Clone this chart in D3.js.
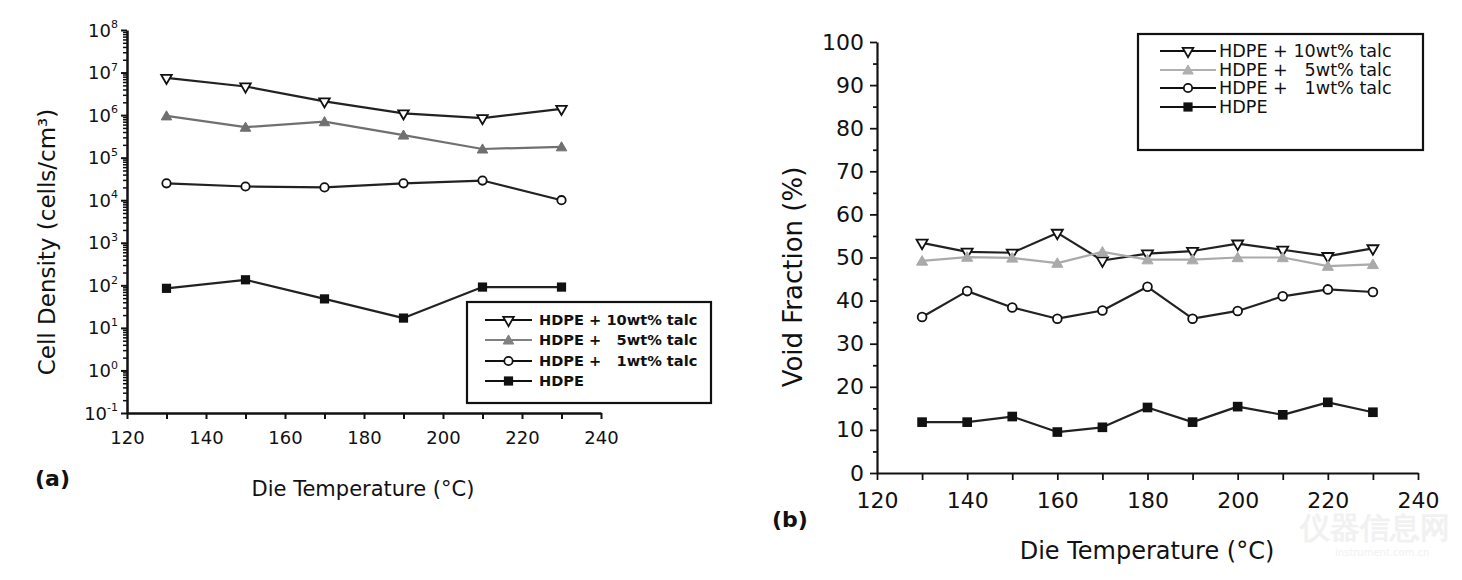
<!DOCTYPE html>
<html>
<head>
<meta charset="utf-8">
<script src="https://cdn.jsdelivr.net/npm/d3@7/dist/d3.min.js"></script>
<style>
  html, body { margin: 0; padding: 0; background: #fff; }
  svg text { font-family: "DejaVu Sans", sans-serif; fill: #111; }
  .pre { white-space: pre; }
</style>
</head>
<body>
<svg id="chart" width="1462" height="580"></svg>
<script>
// ---------- data: panel (a) cell density ----------
const tempsA = [130, 150, 170, 190, 210, 230];
const densTalc10 = [7.5e6, 4.7e6, 2.1e6, 1.1e6, 8.5e5, 1.4e6];
const densTalc5  = [9.6e5, 5.2e5, 7.0e5, 3.4e5, 1.6e5, 1.8e5];
const densTalc1  = [2.5e4, 2.1e4, 2.0e4, 2.5e4, 2.9e4, 1.0e4];
const densHDPE   = [85, 135, 48, 17, 91, 91];

// ---------- data: panel (b) void fraction ----------
const tempsB = [130, 140, 150, 160, 170, 180, 190, 200, 210, 220, 230];
const voidTalc10 = [53.4, 51.3, 51.1, 55.7, 49.3, 50.9, 51.5, 53.2, 51.8, 50.3, 52.1];
const voidTalc5  = [49.2, 50.1, 49.9, 48.7, 51.3, 49.5, 49.5, 50.0, 50.0, 48.0, 48.4];
const voidTalc1  = [36.2, 42.2, 38.4, 35.8, 37.7, 43.2, 35.8, 37.6, 41.0, 42.6, 42.0];
const voidHDPE   = [11.8, 11.8, 13.1, 9.5, 10.6, 15.2, 11.8, 15.4, 13.5, 16.4, 14.1];

// ---------- ticks / labels ----------
const xTicks = [120, 140, 160, 180, 200, 220, 240];
const xMinor = [130, 150, 170, 190, 210, 230];
const logDecades = [-1, 0, 1, 2, 3, 4, 5, 6, 7, 8];
const voidTicks = [0, 10, 20, 30, 40, 50, 60, 70, 80, 90, 100];
const voidMinor = [5, 15, 25, 35, 45, 55, 65, 75, 85, 95];
const legendLabels = ["HDPE + 10wt% talc", "HDPE +   5wt% talc", "HDPE +   1wt% talc", "HDPE"];

const svg = d3.select("#chart");

// ---------- scales ----------
const xA = d3.scaleLinear().domain([120, 240]).range([127, 601]);
const yA = d3.scaleLog().domain([0.1, 1e8]).range([413, 30]);
const xB = d3.scaleLinear().domain([120, 240]).range([877, 1418]);
const yB = d3.scaleLinear().domain([0, 100]).range([473, 42]);

function styleAxis(g, w) {
  g.select(".domain").attr("stroke", "#111").attr("stroke-width", w);
  g.selectAll(".tick line").attr("stroke", "#111").attr("stroke-width", w * 0.8);
}

// faint watermark (drawn first, behind everything)
svg.append("text").attr("x", 1300).attr("y", 538).attr("font-size", 30)
  .attr("font-family", "Noto Sans CJK SC").attr("font-weight", "bold")
  .style("fill", "#f1f1f1").text("仪器信息网");
svg.append("text").attr("x", 1335).attr("y", 556).attr("font-size", 10)
  .style("fill", "#f1f1f1").text("instrument.com.cn");

// ---------- panel (a) axes ----------
const axA = svg.append("g").attr("transform", `translate(0,${yA(0.1)})`)
  .call(d3.axisBottom(xA).tickValues(xTicks).tickSize(6).tickSizeOuter(0).tickPadding(12));
styleAxis(axA, 2.5);
axA.selectAll(".tick text").attr("font-size", 18);
const axAm = svg.append("g").attr("transform", `translate(0,${yA(0.1)})`)
  .call(d3.axisBottom(xA).tickValues(xMinor).tickSize(6).tickSizeOuter(0).tickFormat(""));
styleAxis(axAm, 2.5); axAm.select(".domain").remove();

const majorLog = logDecades.map(e => Math.pow(10, e));
const minorLog = [];
logDecades.slice(0, -1).forEach(e => { for (let k = 2; k <= 9; k++) minorLog.push(k * Math.pow(10, e)); });
const ayA = svg.append("g").attr("transform", `translate(${xA(120)},0)`)
  .call(d3.axisLeft(yA).tickValues(majorLog).tickSize(6).tickSizeOuter(0).tickFormat(""));
styleAxis(ayA, 2.5);
ayA.selectAll(".tick").each(function(d) {
  const e = Math.round(Math.log10(d));
  const t = d3.select(this).append("text")
    .attr("x", -9).attr("y", 6).attr("text-anchor", "end")
    .attr("font-size", 18).attr("fill", "#111");
  t.append("tspan").text("10");
  t.append("tspan").attr("dy", "-0.75em").attr("font-size", 11).text(String(e));
});
const ayAm = svg.append("g").attr("transform", `translate(${xA(120)},0)`)
  .call(d3.axisLeft(yA).tickValues(minorLog).tickSize(4).tickSizeOuter(0).tickFormat(""));
styleAxis(ayAm, 2.5); ayAm.select(".domain").remove();
ayAm.selectAll(".tick line").attr("stroke-width", 1.5);

// ---------- panel (b) axes ----------
const axB = svg.append("g").attr("transform", `translate(0,${yB(0)})`)
  .call(d3.axisBottom(xB).tickValues(xTicks).tickSize(7).tickSizeOuter(0).tickPadding(12));
styleAxis(axB, 2.2);
axB.selectAll(".tick text").attr("font-size", 22);
const axBm = svg.append("g").attr("transform", `translate(0,${yB(0)})`)
  .call(d3.axisBottom(xB).tickValues(xMinor).tickSize(7).tickSizeOuter(0).tickFormat(""));
styleAxis(axBm, 2.2); axBm.select(".domain").remove();

const ayB = svg.append("g").attr("transform", `translate(${xB(120)},0)`)
  .call(d3.axisLeft(yB).tickValues(voidTicks).tickSize(7).tickSizeOuter(0).tickPadding(6));
styleAxis(ayB, 2.2);
ayB.selectAll(".tick text").attr("font-size", 22);
const ayBm = svg.append("g").attr("transform", `translate(${xB(120)},0)`)
  .call(d3.axisLeft(yB).tickValues(voidMinor).tickSize(4).tickSizeOuter(0).tickFormat(""));
styleAxis(ayBm, 2.2); ayBm.select(".domain").remove();

svg.selectAll(".tick text").attr("fill", "#111").attr("font-family", "DejaVu Sans");

// ---------- marker helpers ----------
const symTri = (s) => d3.symbol().type(d3.symbolTriangle).size(s)();
function drawMarker(g, kind, x, y, color, scale) {
  const s = scale || 1;
  if (kind === "down") {
    g.append("path").attr("d", symTri(48 * s)).attr("transform", `translate(${x},${y}) rotate(180)`)
      .attr("fill", "#fff").attr("stroke", "#111").attr("stroke-width", 1.8);
  } else if (kind === "up") {
    g.append("path").attr("d", symTri(48 * s)).attr("transform", `translate(${x},${y + 1})`)
      .attr("fill", color).attr("stroke", color).attr("stroke-width", 1);
  } else if (kind === "circle") {
    g.append("circle").attr("cx", x).attr("cy", y).attr("r", 4.2 * Math.sqrt(s))
      .attr("fill", "#fff").attr("stroke", "#111").attr("stroke-width", 1.8);
  } else {
    const h = 4.6 * Math.sqrt(s);
    g.append("rect").attr("x", x - h).attr("y", y - h).attr("width", 2 * h).attr("height", 2 * h)
      .attr("fill", "#111");
  }
}

function drawSeries(xs, ys, x, y, kind, lineColor, markColor, scale) {
  const g = svg.append("g");
  const pts = xs.map((t, i) => [x(t), y(ys[i])]);
  g.append("path").attr("d", d3.line()(pts)).attr("fill", "none")
    .attr("stroke", lineColor).attr("stroke-width", 2.2).attr("stroke-linejoin", "round");
  pts.forEach(p => drawMarker(g, kind, p[0], p[1], markColor, scale));
}

// ---------- panel (a) series ----------
drawSeries(tempsA, densHDPE, xA, yA, "square", "#222", "#111", 1);
drawSeries(tempsA, densTalc1, xA, yA, "circle", "#222", "#111", 1);
drawSeries(tempsA, densTalc5, xA, yA, "up", "#707070", "#707070", 1);
drawSeries(tempsA, densTalc10, xA, yA, "down", "#222", "#111", 1);

// ---------- panel (b) series ----------
drawSeries(tempsB, voidHDPE, xB, yB, "square", "#222", "#111", 1.1);
drawSeries(tempsB, voidTalc1, xB, yB, "circle", "#222", "#111", 1.1);
drawSeries(tempsB, voidTalc10, xB, yB, "down", "#222", "#111", 1.1);
drawSeries(tempsB, voidTalc5, xB, yB, "up", "#aaaaaa", "#aaaaaa", 1.1);

// ---------- legends ----------
function legend(box, rows, lx0, lx1, tx, fs, bold, c5line, c5mark) {
  svg.append("rect").attr("x", box[0]).attr("y", box[1]).attr("width", box[2]).attr("height", box[3])
    .attr("fill", "#fff").attr("stroke", "#111").attr("stroke-width", 2.2);
  const kinds = ["down", "up", "circle", "square"];
  kinds.forEach((k, i) => {
    const g = svg.append("g");
    const col = k === "up" ? c5line : "#111";
    g.append("line").attr("x1", lx0).attr("x2", lx1).attr("y1", rows[i]).attr("y2", rows[i])
      .attr("stroke", col).attr("stroke-width", 2);
    drawMarker(g, k, (lx0 + lx1) / 2, rows[i], c5mark, 1);
    g.append("text").attr("class", "pre").attr("x", tx).attr("y", rows[i]).attr("dy", "0.36em")
      .attr("font-size", fs).attr("font-weight", bold ? "bold" : "normal")
      .text(legendLabels[i]);
  });
}
legend([467, 302, 244, 101], [320, 340, 361, 381], 485, 532, 539, 14.6, true, "#808080", "#808080");
legend([1138, 34, 285, 116], [51, 70, 88, 107], 1160, 1216, 1219, 17.6, false, "#b0b0b0", "#b0b0b0");

// ---------- titles ----------
svg.append("text").attr("transform", "translate(47,242) rotate(-90)").attr("text-anchor", "middle")
  .attr("dy", "0.35em").attr("font-size", 23).text("Cell Density (cells/cm³)");
svg.append("text").attr("x", 363).attr("y", 496).attr("text-anchor", "middle")
  .attr("font-size", 21).text("Die Temperature (°C)");
svg.append("text").attr("x", 35).attr("y", 486).attr("font-size", 22).attr("font-weight", "bold").text("(a)");

svg.append("text").attr("transform", "translate(793,277) rotate(-90)").attr("text-anchor", "middle")
  .attr("dy", "0.35em").attr("font-size", 26).text("Void Fraction (%)");
svg.append("text").attr("x", 1147).attr("y", 559).attr("text-anchor", "middle")
  .attr("font-size", 24).text("Die Temperature (°C)");
svg.append("text").attr("x", 772).attr("y", 527).attr("font-size", 22).attr("font-weight", "bold").text("(b)");
</script>
</body>
</html>
